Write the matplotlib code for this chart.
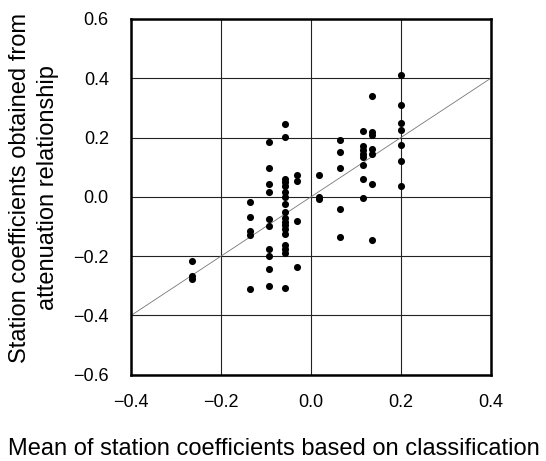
import matplotlib
matplotlib.use("Agg")
import matplotlib.pyplot as plt

plt.rcParams['font.family'] = ['Liberation Sans', 'DejaVu Sans']

# x columns (mean of station coefficients by classification) and the y values in each
col_x = [-0.264, -0.135, -0.093, -0.058, -0.030, 0.018, 0.064, 0.115, 0.135, 0.200]
col_y = [
    [-0.217, -0.267, -0.277],
    [-0.017, -0.069, -0.116, -0.128, -0.312],
    [0.186, 0.098, 0.044, 0.015, -0.075, -0.097, -0.176, -0.200, -0.243, -0.301],
    [0.246, 0.203, 0.061, 0.050, 0.035, 0.018, -0.001, -0.023, -0.051, -0.073,
     -0.085, -0.096, -0.107, -0.126, -0.163, -0.176, -0.190, -0.307],
    [0.072, 0.055, -0.082, -0.236],
    [0.075, -0.001, -0.006],
    [0.192, 0.151, 0.097, -0.040, -0.135],
    [0.221, 0.170, 0.159, 0.145, 0.134, 0.108, 0.061, -0.003],
    [0.341, 0.220, 0.207, 0.163, 0.146, 0.044, -0.147],
    [0.412, 0.311, 0.248, 0.227, 0.174, 0.120, 0.036],
]
xs, ys = [], []
for cx, cys in zip(col_x, col_y):
    for v in cys:
        xs.append(cx)
        ys.append(v)

x_ticks = [-0.4, -0.2, 0.0, 0.2, 0.4]
y_ticks = [-0.6, -0.4, -0.2, 0.0, 0.2, 0.4, 0.6]
x_ticklabels = ['\u22120.4', '\u22120.2', '0.0', '0.2', '0.4']
y_ticklabels = ['\u22120.6', '\u22120.4', '\u22120.2', '0.0', '0.2', '0.4', '0.6']
line_1to1 = [-0.4, 0.4]

fig = plt.figure(figsize=(5.46, 4.61), dpi=100)
ax = fig.add_axes([0.240, 0.187, 0.659, 0.772])
ax.set_xlim(-0.4, 0.4)
ax.set_ylim(-0.6, 0.6)
ax.set_xticks(x_ticks)
ax.set_yticks(y_ticks)
ax.set_xticklabels(x_ticklabels)
ax.set_yticklabels(y_ticklabels)
ax.grid(True, color='#222222', linewidth=0.8)
ax.set_axisbelow(True)
ax.plot(line_1to1, line_1to1, color='#777777', linewidth=0.6, zorder=2)
ax.scatter(xs, ys, s=26, color='black', zorder=3, linewidths=0)
for sp in ax.spines.values():
    sp.set_linewidth(1.8)
ax.tick_params(axis='both', length=0, labelsize=13)
ax.tick_params(axis='x', pad=14)
ax.tick_params(axis='y', pad=16)
fig.text(0.502, 0.025, 'Mean of station coefficients based on classification',
         fontsize=17, ha='center', va='center')
fig.text(0.063, 0.593, 'Station coefficients obtained from\nattenuation relationship',
         fontsize=17, ha='center', va='center', rotation=90, linespacing=1.35)
fig.savefig('out.png', dpi=100)
